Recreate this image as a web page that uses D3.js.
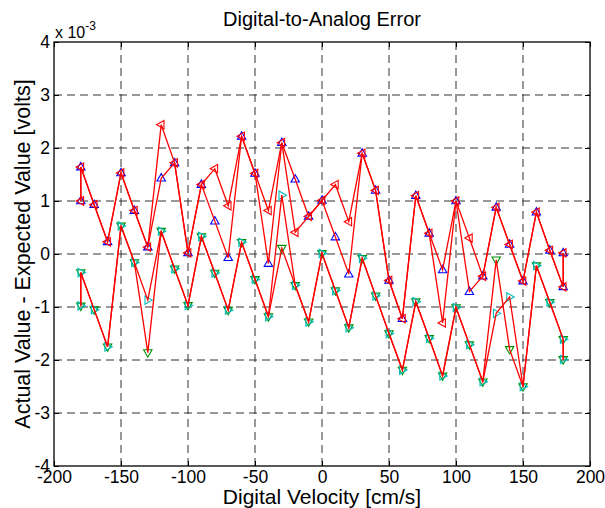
<!DOCTYPE html>
<html>
<head>
<meta charset="utf-8">
<script src="https://cdn.jsdelivr.net/npm/d3@7"></script>
<style>
  body { margin: 0; background: #fff; }
  text { font-family: Arial, "Liberation Sans", sans-serif; fill: #000; }
</style>
</head>
<body>
<div id="svgContainer"></div>
<script>
// velocity sweep, end points measured twice
const velocity = [-180, -180, -170, -160, -150, -140, -130, -120, -110, -100, -90, -80, -70, -60, -50, -40, -30, -20, -10,
    0, 10, 20, 30, 40, 50, 60, 70, 80, 90, 100, 110, 120, 130, 140, 150, 160, 170, 180, 180];

// errors in units of 1e-3 volts
const upperFwd = [1.00, 1.64, 0.93, 0.23, 1.53, 0.82, 0.13, 1.43, 1.72, 0.02, 1.31, 0.62, -0.07, 2.22, 1.52, -0.18, 2.10, 1.41, 0.71,
    1.01, 0.32, -0.38, 1.90, 1.20, -0.50, -1.22, 1.10, 0.39, -0.30, 1.00, -0.71, -0.42, 0.88, 0.18, -0.51, 0.79, 0.07, -0.62, 0.02];
const upperRev = [1.00, 1.64, 0.93, 0.23, 1.53, 0.82, 0.13, 2.44, 1.72, 0.02, 1.31, 1.61, 0.91, 2.22, 1.52, 0.82, 2.10, 0.41, 0.71,
    1.01, 1.31, 0.61, 1.90, 1.20, -0.50, -1.22, 1.10, 0.39, -1.30, 1.00, 0.30, -0.42, 0.88, 0.18, -0.51, 0.79, 0.07, -0.62, 0.02];
const lowerFwd = [-0.98, -0.35, -1.05, -1.75, 0.53, -0.16, -1.86, 0.43, -0.28, -0.97, 0.33, -0.36, -1.06, 0.22, -0.48, -1.18, 0.11, -0.59, -1.28,
    0.01, -0.69, -1.39, -0.08, -0.79, -1.50, -2.19, -0.90, -1.59, -2.30, -1.01, -1.71, -2.41, -0.11, -1.80, -2.50, -0.22, -0.91, -1.61, -1.99];
const lowerRev = [-0.98, -0.35, -1.05, -1.75, 0.53, -0.16, -0.87, 0.43, -0.28, -0.97, 0.33, -0.36, -1.06, 0.22, -0.48, -1.18, 1.11, -0.59, -1.28,
    0.01, -0.69, -1.39, -0.08, -0.79, -1.50, -2.19, -0.90, -1.59, -2.30, -1.01, -1.71, -2.41, -1.12, -0.81, -2.50, -0.22, -0.91, -1.61, -1.99];

const xTicks = [-200, -150, -100, -50, 0, 50, 100, 150, 200];
const yTicks = [-4, -3, -2, -1, 0, 1, 2, 3, 4];

const width = 605;
const height = 508;
const margin = {left: 54, right: 15, top: 42, bottom: 42};

const svg = d3.select("#svgContainer").append("svg")
    .attr("width", width)
    .attr("height", height);

const x = d3.scaleLinear().domain([-200, 200]).range([margin.left, width - margin.right]);
const y = d3.scaleLinear().domain([-4, 4]).range([height - margin.bottom, margin.top]);

// grid
const grid = svg.append("g")
    .attr("stroke", "#333")
    .attr("stroke-width", 1)
    .attr("stroke-dasharray", "8,5");
grid.selectAll("line.vx")
    .data(xTicks.slice(1, -1))
    .join("line")
    .attr("x1", d => x(d)).attr("x2", d => x(d))
    .attr("y1", y(4)).attr("y2", y(-4));
grid.selectAll("line.hy")
    .data(yTicks.slice(1, -1))
    .join("line")
    .attr("class", "hy")
    .attr("y1", d => y(d)).attr("y2", d => y(d))
    .attr("x1", x(-200)).attr("x2", x(200));

// axes with inward ticks, plain hyphen minus like the original
const tickLen = 5;
const plain = d => String(d);
svg.append("g")
    .attr("transform", `translate(0,${y(-4)})`)
    .call(d3.axisBottom(x).tickValues(xTicks).tickSizeInner(-tickLen).tickSizeOuter(0).tickPadding(7).tickFormat(plain))
    .call(g => g.select(".domain").remove())
    .call(g => g.selectAll("text").attr("font-size", 17.5).attr("dy", "0.55em"));
svg.append("g")
    .attr("transform", `translate(0,${y(4)})`)
    .call(d3.axisTop(x).tickValues(xTicks).tickSizeInner(-tickLen).tickSizeOuter(0).tickFormat(""))
    .call(g => g.select(".domain").remove());
svg.append("g")
    .attr("transform", `translate(${x(-200)},0)`)
    .call(d3.axisLeft(y).tickValues(yTicks).tickSizeInner(-tickLen).tickSizeOuter(0).tickPadding(4).tickFormat(plain))
    .call(g => g.select(".domain").remove())
    .call(g => g.selectAll("text").attr("font-size", 17.5));
svg.append("g")
    .attr("transform", `translate(${x(200)},0)`)
    .call(d3.axisRight(y).tickValues(yTicks).tickSizeInner(-tickLen).tickSizeOuter(0).tickFormat(""))
    .call(g => g.select(".domain").remove());

svg.append("rect")
    .attr("x", x(-200)).attr("y", y(4))
    .attr("width", x(200) - x(-200)).attr("height", y(-4) - y(4))
    .attr("fill", "none").attr("stroke", "#000").attr("stroke-width", 1.3);

// markers
const tri = {
    up: "M0,-4.6L4.2,2.8L-4.2,2.8Z",
    down: "M0,4.6L4.2,-2.8L-4.2,-2.8Z",
    left: "M-4.6,0L2.8,-4.2L2.8,4.2Z",
    right: "M4.6,0L-2.8,-4.2L-2.8,4.2Z"
};

const series = [
    {values: upperFwd, marker: tri.up, color: "#0000ff"},
    {values: upperRev, marker: tri.left, color: "#ff0000"},
    {values: lowerFwd, marker: tri.down, color: "#009000"},
    {values: lowerRev, marker: tri.right, color: "#00bcbc"}
];

const line = d3.line()
    .x((d, i) => x(velocity[i]))
    .y(d => y(d));

series.forEach(s => {
    svg.append("g")
        .selectAll("path")
        .data(s.values)
        .join("path")
        .attr("transform", (d, i) => `translate(${x(velocity[i])},${y(d)})`)
        .attr("d", s.marker)
        .attr("fill", "none")
        .attr("stroke", s.color)
        .attr("stroke-width", 1.1);
});

series.forEach(s => {
    svg.append("path")
        .datum(s.values)
        .attr("d", line)
        .attr("fill", "none")
        .attr("stroke", "#ff0000")
        .attr("stroke-width", 1.3);
});

// labels
svg.append("text")
    .attr("x", (x(-200) + x(200)) / 2)
    .attr("y", 26)
    .attr("text-anchor", "middle")
    .attr("font-size", 20)
    .text("Digital-to-Analog Error");

svg.append("text")
    .attr("x", (x(-200) + x(200)) / 2)
    .attr("y", 504)
    .attr("text-anchor", "middle")
    .attr("font-size", 21)
    .text("Digital Velocity [cm/s]");

svg.append("text")
    .attr("transform", `translate(30,${(y(4) + y(-4)) / 2}) rotate(-90)`)
    .attr("text-anchor", "middle")
    .attr("font-size", 21.5)
    .text("Actual Value - Expected Value [volts]");

const exp = svg.append("text")
    .attr("x", x(-200) + 1)
    .attr("y", 38)
    .attr("font-size", 16)
    .text("x 10");
exp.append("tspan")
    .attr("dy", -8)
    .attr("font-size", 12)
    .text("-3");
</script>
</body>
</html>
